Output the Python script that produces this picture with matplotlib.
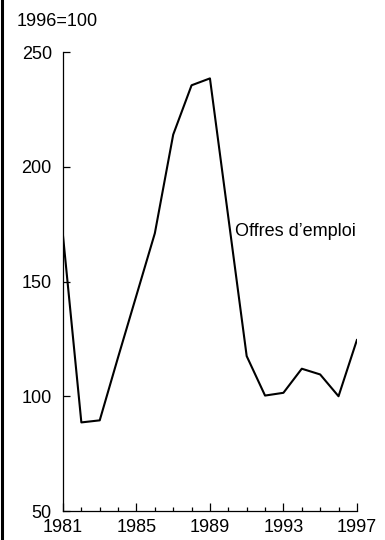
import matplotlib
matplotlib.use("Agg")
import matplotlib.pyplot as plt
from matplotlib.lines import Line2D
from matplotlib.ticker import MultipleLocator

plt.rcParams['font.family'] = ['Liberation Sans', 'DejaVu Sans']

# data (index, 1996=100)
years = [1981, 1982, 1983, 1984, 1985, 1986, 1987, 1988, 1989,
         1990, 1991, 1992, 1993, 1994, 1995, 1996, 1997]
offres = [170, 88.6, 89.5, 117, 144, 171, 214, 235.5, 238.5,
          178, 117.5, 100.3, 101.5, 112, 109.5, 100, 124.5]

xticks = [1981, 1985, 1989, 1993, 1997]
yticks = [50, 100, 150, 200, 250]

fig = plt.figure(figsize=(3.85, 5.4), dpi=100)
ax = fig.add_axes([0.1636, 0.0537, 0.927 - 0.1636, 0.9037 - 0.0537])

ax.plot(years, offres, color='black', lw=1.5)

ax.set_xlim(1981, 1997)
ax.set_ylim(50, 250)
ax.set_xticks(xticks)
ax.set_yticks(yticks)
ax.xaxis.set_minor_locator(MultipleLocator(1))

for s in ['top', 'right']:
    ax.spines[s].set_visible(False)
for s in ['left', 'bottom']:
    ax.spines[s].set_linewidth(0.9)

ax.tick_params(axis='x', which='major', direction='in', length=6, width=0.9,
               pad=5.5, labelsize=13)
ax.tick_params(axis='x', which='minor', direction='in', length=3, width=0.9)
ax.tick_params(axis='y', direction='in', length=5, width=0.9, pad=8, labelsize=13)

ax.text(1990.36, 172, 'Offres d\u2019emploi', fontsize=13, va='center', ha='left')
fig.text(0.042, 0.96, '1996=100', fontsize=13, va='center', ha='left')

# left border line of the frame
fig.add_artist(Line2D([0.004, 0.004], [0, 1], transform=fig.transFigure,
                      color='black', lw=2.2))

fig.savefig('out.png', dpi=100)
